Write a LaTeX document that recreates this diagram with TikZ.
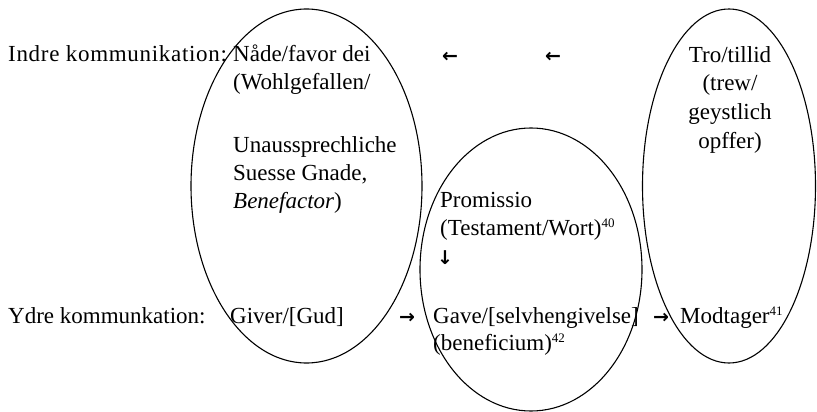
\documentclass[tikz,border=0pt]{standalone}
\usepackage{fontspec}
\setmainfont{Liberation Serif}
\newfontfamily\arrowfont{DejaVu Sans}
\newcommand{\supnum}[1]{\raisebox{8pt}{\fontsize{13}{13}\selectfont #1}}
\begin{document}
\begin{tikzpicture}[x=1pt,y=-1pt,
  txt/.style={anchor=base west, inner sep=0pt, font=\fontsize{23}{28}\selectfont},
  ctxt/.style={anchor=base, inner sep=0pt, font=\fontsize{23}{28}\selectfont},
  arr/.style={anchor=center, inner sep=0pt, font=\arrowfont\bfseries\fontsize{19}{20}\selectfont},
  ring/.style={draw=black, line width=1.1pt}]
\useasboundingbox (0,0) rectangle (817,412);
% ellipses
\draw[ring] (306.5,186) ellipse [x radius=115.5pt, y radius=177pt];
\draw[ring] (531,269.5) ellipse [x radius=111pt, y radius=141.5pt];
\draw[ring] (729,186) ellipse [x radius=86.5pt, y radius=177pt];
% inner communication
\node[txt] (indre) at (8,62) {\addfontfeature{LetterSpace=3}Indre kommunikation:};
\node[txt] (nade) at (233,62) {Nåde/favor dei};
\node[txt] (wohl) at (233,90) {(Wohlgefallen/};
\node[txt] (unaus) at (233,152) {Unaussprechliche};
\node[txt] (suesse) at (233,180) {Suesse Gnade,};
\node[txt] (bene) at (233,208) {\textit{Benefactor})};
\node[arr] (larrA) at (450,57) {←};
\node[arr] (larrB) at (553,57) {←};
\node[ctxt] (tro) at (730,63) {Tro/tillid};
\node[ctxt] (trew) at (730,91) {(trew/};
\node[ctxt] (geyst) at (730,120) {geystlich};
\node[ctxt] (opffer) at (730,148) {opffer)};
% promissio
\node[txt] (prom) at (440,207) {Promissio};
\node[txt] (testa) at (440,235) {(Testament/Wort)\supnum{40}};
\node[arr] (darr) at (445,258) {↓};
% outer communication
\node[txt] (ydre) at (8,323) {Ydre kommunkation:};
\node[txt] (giver) at (230,323) {Giver/[Gud]};
\node[arr] (rarrA) at (407,318) {→};
\node[txt] (gave) at (433,323) {Gave/[selvhengivelse]};
\node[txt] (benef) at (433,350) {(beneficium)\supnum{42}};
\node[arr] (rarrB) at (661,318) {→};
\node[txt] (modt) at (680,323) {Modtager\supnum{41}};
\end{tikzpicture}
\end{document}
